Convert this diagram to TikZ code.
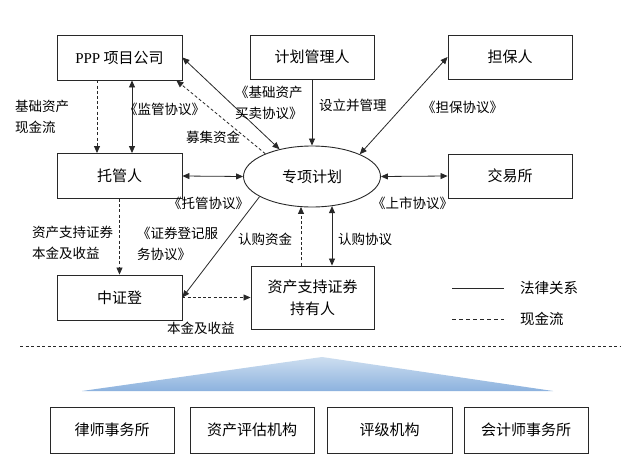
\documentclass[tikz,border=0pt]{standalone}
\usepackage{fontspec}
\setmainfont{Liberation Serif}
\newfontfamily\cjk{Noto Sans CJK SC}
\usetikzlibrary{shapes.geometric,arrows.meta,calc}
\definecolor{ln}{RGB}{40,40,40}
\definecolor{triTop}{RGB}{205,222,240}
\definecolor{triBot}{RGB}{140,178,222}
\begin{document}
\begin{tikzpicture}[x=1pt,y=-1pt,
  box/.style={draw=ln, line width=0.9pt, inner sep=0pt, font=\cjk\fontsize{15}{22}\selectfont, align=center, text=black},
  lbl/.style={inner sep=0pt, anchor=west, align=left, font=\cjk\fontsize{13.5}{21}\selectfont, text=black},
  leg/.style={inner sep=0pt, anchor=west, font=\cjk\fontsize{14.5}{18}\selectfont, text=black},
  con/.style={draw=ln, line width=0.8pt},
  cash/.style={con, dash pattern=on 3pt off 2.2pt},
  one/.style={-{Triangle[length=7pt,width=6pt]}},
  two/.style={{Triangle[length=7pt,width=6pt]}-{Triangle[length=7pt,width=6pt]}}
]
\useasboundingbox[fill=white] (0,0) rectangle (640,474);

% main nodes
\node[box, minimum width=125pt, minimum height=45pt] (ppp) at (119.5,57.5) {{\rmfamily PPP} 项目公司};
\node[box, minimum width=124pt, minimum height=44pt] (jh)  at (312,57) {计划管理人};
\node[box, minimum width=124pt, minimum height=44pt] (db)  at (510,57) {担保人};
\node[box, minimum width=125pt, minimum height=45pt] (tg)  at (119.5,176) {托管人};
\node[box, ellipse, minimum width=137pt, minimum height=61pt] (plan) at (312,176.5) {专项计划};
\node[box, minimum width=124pt, minimum height=44pt] (jys) at (510,176) {交易所};
\node[box, minimum width=125pt, minimum height=45pt] (zzd) at (119.5,297.5) {中证登};
\node[box, minimum width=123pt, minimum height=63pt] (hold) at (312.5,297.5) {资产支持证券\\持有人};

% bottom nodes
\node[box, minimum width=124pt, minimum height=46pt] (b1) at (112,430) {律师事务所};
\node[box, minimum width=124pt, minimum height=46pt] (b2) at (252,430) {资产评估机构};
\node[box, minimum width=125pt, minimum height=46pt] (b3) at (389.5,430) {评级机构};
\node[box, minimum width=124pt, minimum height=46pt] (b4) at (526,430) {会计师事务所};

% connectors
\draw[cash, one] ([xshift=-22.5pt]ppp.south) -- ([xshift=-22.5pt]tg.north);
\draw[con, two] ([xshift=12.5pt]ppp.south) -- ([xshift=12.5pt]tg.north);
\draw[con, two] (ppp.east) -- (plan.140);
\draw[cash, one] (plan.154) -- ([xshift=-6pt]ppp.south east);
\draw[con, one] (jh.south) -- (plan.north);
\draw[con, two] (db.west) -- (plan.25);
\draw[con, two] (tg.east) -- (plan.west);
\draw[cash, one] (tg.south) -- (zzd.north);
\draw[con, one] (plan.201) -- (zzd.east);
\draw[cash, one] (zzd.east) -- (hold.west);
\draw[cash, one] ([xshift=-11.5pt]hold.north) -- ([xshift=-11.5pt,yshift=0.5pt]hold.north |- plan.south);
\draw[con, two] ([xshift=19.5pt]hold.north) -- ([xshift=19.5pt,yshift=1.3pt]hold.north |- plan.south);
\draw[con, two] (plan.east) -- (jys.west);

% labels
\node[lbl] (l1) at (15,116.5) {基础资产\\现金流};
\node[lbl] (l2) at (124,109) {《监管协议》};
\node[lbl] (l3) at (186,137) {募集资金};
\node[lbl] (l4) at (235,102.5) {《基础资产\\买卖协议》};
\node[lbl] (l5) at (319,105) {设立并管理};
\node[lbl] (l6) at (422,107) {《担保协议》};
\node[lbl] (l7) at (168,203) {《托管协议》};
\node[lbl] (l8) at (372,203) {《上市协议》};
\node[lbl] (l9) at (32,243) {资产支持证券\\本金及收益};
\node[lbl] (l10) at (137,244) {《证券登记服\\务协议》};
\node[lbl] (l11) at (238,239) {认购资金};
\node[lbl] (l12) at (338,239) {认购协议};
\node[lbl] (l13) at (167,328) {本金及收益};

% legend
\coordinate (la1) at (452,288);
\coordinate (la2) at (504,288);
\coordinate (lb1) at (452,319);
\coordinate (lb2) at (504,319);
\draw[con] (la1) -- (la2);
\draw[con, dash pattern=on 4pt off 3pt] (lb1) -- (lb2);
\node[leg] (t1) at (520,288) {法律关系};
\node[leg] (t2) at (520,319) {现金流};

% separator
\coordinate (s1) at (20,346);
\coordinate (s2) at (620,346);
\draw[draw=ln, line width=0.8pt, dash pattern=on 3pt off 2.5pt] (s1) -- (s2);

% triangle
\shade[top color=triTop, bottom color=triBot] (322,357) -- (553,391) -- (82,391) -- cycle;
\end{tikzpicture}
\end{document}
